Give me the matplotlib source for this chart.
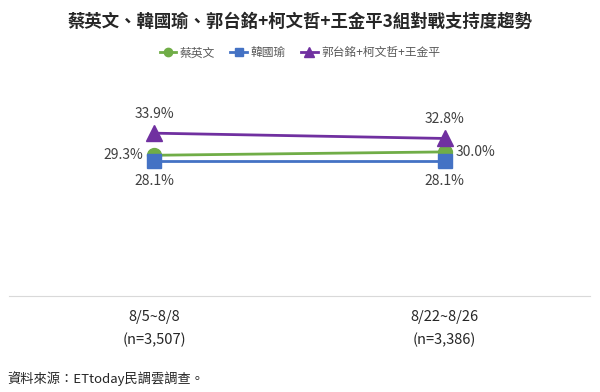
import matplotlib.pyplot as plt

plt.rcParams['font.family'] = ['Noto Sans CJK TC', 'DejaVu Sans']

periods = ['8/5~8/8\n(n=3,507)', '8/22~8/26\n(n=3,386)']
tsai = [29.3, 30.0]
han = [28.1, 28.1]
kuo = [33.9, 32.8]

names = ['蔡英文', '韓國瑜', '郭台銘+柯文哲+王金平']
colors = ['#70AD47', '#4472C4', '#7030A0']

fig = plt.figure(figsize=(6.0, 3.92), dpi=100)
ax = fig.add_axes([0.015, 0.245, 0.968, 0.49])

x = range(len(periods))
ax.plot(x, tsai, color=colors[0], marker='o', markersize=10, lw=2, label=names[0])
ax.plot(x, han, color=colors[1], marker='s', markersize=10, lw=2, label=names[1])
ax.plot(x, kuo, color=colors[2], marker='^', markersize=11, lw=2, label=names[2])

# data labels
lab = dict(textcoords='offset points', fontsize=10, color='#404040')
for i in x:
    ax.annotate(f'{kuo[i]:.1f}%', (i, kuo[i]), xytext=(0, 9), ha='center', va='bottom', **lab)
    ax.annotate(f'{han[i]:.1f}%', (i, han[i]), xytext=(0, -9), ha='center', va='top', **lab)
ax.annotate(f'{tsai[0]:.1f}%', (0, tsai[0]), xytext=(-8, 0), ha='right', va='center', **lab)
ax.annotate(f'{tsai[1]:.1f}%', (1, tsai[1]), xytext=(8, 0), ha='left', va='center', **lab)

ax.set_xlim(-0.5, 1.5)
ax.set_ylim(0, 40)
ax.set_yticks([])
ax.set_xticks(list(x))
ax.set_xticklabels(periods, fontsize=10.5, color='#262626', linespacing=1.75)
ax.tick_params(axis='x', length=0, pad=10)
for s in ['top', 'right', 'left']:
    ax.spines[s].set_visible(False)
ax.spines['bottom'].set_color('#D9D9D9')

fig.text(0.5, 0.945, '蔡英文、韓國瑜、郭台銘+柯文哲+王金平3組對戰支持度趨勢',
         ha='center', va='center', fontsize=12.5, fontweight='bold', color='#262626')
fig.legend(loc='center', bbox_to_anchor=(0.5, 0.865), ncol=3, frameon=False,
           fontsize=8.5, handlelength=1.4, columnspacing=1.3, handletextpad=0.3,
           markerscale=0.6, labelcolor='#595959')
fig.text(0.013, 0.035, '資料來源：ETtoday民調雲調查。', ha='left', va='center',
         fontsize=9.5, color='#262626')

fig.savefig('out.png', dpi=100, facecolor='white')
